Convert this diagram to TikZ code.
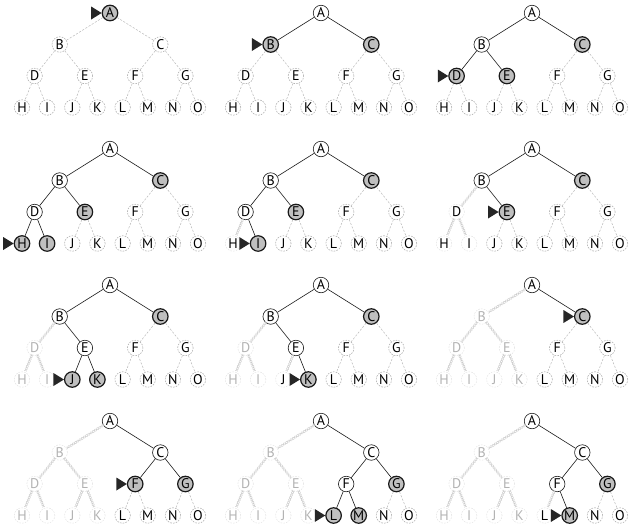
\documentclass[tikz,border=0pt]{standalone}
\usepackage{fontspec}
\setmainfont{PT Sans}
\usetikzlibrary{decorations.markings}
\tikzset{
  x=1pt, y=-1pt,
  nd/.style={circle, minimum size=15.5pt, inner sep=0pt, font=\fontsize{14}{14}\selectfont, text=black},
  n-un/.style={nd, draw=gray!65, dash pattern=on 1.6pt off 1.2pt, line width=0.55pt, fill=white},
  n-fr/.style={nd, draw=black!90, line width=1.2pt, fill=gray!50},
  n-ex/.style={nd, draw=black!90, line width=0.6pt, fill=white},
  n-rm/.style={nd, draw=gray!22, dash pattern=on 1.6pt off 1.2pt, line width=0.5pt, text=gray!60},
  n-rn/.style={nd, draw=gray!22, dash pattern=on 1.6pt off 1.2pt, line width=0.5pt, text=black},
  e-un/.style={draw=gray!55, dash pattern=on 2.2pt off 1.5pt, line width=0.5pt},
  e-fr/.style={draw=black!90, line width=0.6pt},
  e-ex/.style={e-fr},
  e-rm/.style={draw=none, postaction={decorate},
    decoration={markings, mark=between positions 0 and 1 step 2.6pt with
      {\draw[gray!40, line width=0.5pt] (-1.2pt,-1.2pt)--(1.2pt,1.2pt) (-1.2pt,1.2pt)--(1.2pt,-1.2pt);}}},
  e-rn/.style={e-rm},
  ns/.style={n-#1},
  es/.style={e-#1},
  ptr/.style={fill=black!85},
}
\newcommand\resetst{\def\sA{un}\def\sB{un}\def\sC{un}\def\sD{un}\def\sE{un}%
  \def\sF{un}\def\sG{un}\def\sH{un}\def\sI{un}\def\sJ{un}\def\sK{un}\def\sL{un}%
  \def\sM{un}\def\sN{un}\def\sO{un}}
\newcommand\tree[3]{%
\begin{scope}[shift={(#2,#3)}]
\node[ns/.expanded=\sA] (#1A) at (110,13) {A};
\node[ns/.expanded=\sB] (#1B) at (59.7,44.5) {B};
\node[ns/.expanded=\sC] (#1C) at (160.3,44.5) {C};
\node[ns/.expanded=\sD] (#1D) at (34.6,76) {D};
\node[ns/.expanded=\sE] (#1E) at (84.9,76) {E};
\node[ns/.expanded=\sF] (#1F) at (135.2,76) {F};
\node[ns/.expanded=\sG] (#1G) at (185.4,76) {G};
\node[ns/.expanded=\sH] (#1H) at (22,107.5) {H};
\node[ns/.expanded=\sI] (#1I) at (47.1,107.5) {I};
\node[ns/.expanded=\sJ] (#1J) at (72.3,107.5) {J};
\node[ns/.expanded=\sK] (#1K) at (97.4,107.5) {K};
\node[ns/.expanded=\sL] (#1L) at (122.6,107.5) {L};
\node[ns/.expanded=\sM] (#1M) at (147.7,107.5) {M};
\node[ns/.expanded=\sN] (#1N) at (172.9,107.5) {N};
\node[ns/.expanded=\sO] (#1O) at (198,107.5) {O};
\draw[es/.expanded=\sB] (#1A) -- (#1B);
\draw[es/.expanded=\sC] (#1A) -- (#1C);
\draw[es/.expanded=\sD] (#1B) -- (#1D);
\draw[es/.expanded=\sE] (#1B) -- (#1E);
\draw[es/.expanded=\sF] (#1C) -- (#1F);
\draw[es/.expanded=\sG] (#1C) -- (#1G);
\draw[es/.expanded=\sH] (#1D) -- (#1H);
\draw[es/.expanded=\sI] (#1D) -- (#1I);
\draw[es/.expanded=\sJ] (#1E) -- (#1J);
\draw[es/.expanded=\sK] (#1E) -- (#1K);
\draw[es/.expanded=\sL] (#1F) -- (#1L);
\draw[es/.expanded=\sM] (#1F) -- (#1M);
\draw[es/.expanded=\sN] (#1G) -- (#1N);
\draw[es/.expanded=\sO] (#1G) -- (#1O);
\fill[ptr] (#1\cur.west) -- ++(-10.5,6.5) -- ++(0,-13) -- cycle;
\end{scope}}
\begin{document}
\begin{tikzpicture}
\useasboundingbox (0,0) rectangle (634,528);
% panel 1
\resetst\def\sA{fr}\def\cur{A}
\tree{a}{0}{0}
% panel 2
\resetst\def\sA{ex}\def\sB{fr}\def\sC{fr}\def\cur{B}
\tree{b}{211}{0}
% panel 3
\resetst\def\sA{ex}\def\sB{ex}\def\sC{fr}\def\sD{fr}\def\sE{fr}\def\cur{D}
\tree{c}{422}{0}
% panel 4
\resetst\def\sA{ex}\def\sB{ex}\def\sD{ex}\def\sC{fr}\def\sE{fr}\def\sH{fr}\def\sI{fr}\def\cur{H}
\tree{d}{0}{136}
% panel 5
\resetst\def\sA{ex}\def\sB{ex}\def\sD{ex}\def\sC{fr}\def\sE{fr}\def\sI{fr}\def\sH{rn}\def\cur{I}
\tree{e}{211}{136}
% panel 6
\resetst\def\sA{ex}\def\sB{ex}\def\sC{fr}\def\sE{fr}\def\sD{rn}\def\sH{rn}\def\sI{rn}\def\cur{E}
\tree{f}{422}{136}
% panel 7
\resetst\def\sA{ex}\def\sB{ex}\def\sE{ex}\def\sC{fr}\def\sJ{fr}\def\sK{fr}\def\sD{rm}\def\sH{rm}\def\sI{rm}\def\cur{J}
\tree{g}{0}{272}
% panel 8
\resetst\def\sA{ex}\def\sB{ex}\def\sE{ex}\def\sC{fr}\def\sK{fr}\def\sD{rm}\def\sH{rm}\def\sI{rm}\def\sJ{rn}\def\cur{K}
\tree{h}{211}{272}
% panel 9
\resetst\def\sA{ex}\def\sC{fr}\def\sB{rm}\def\sD{rm}\def\sE{rm}\def\sH{rm}\def\sI{rm}\def\sJ{rm}\def\sK{rm}\def\cur{C}
\tree{i}{422}{272}
% panel 10
\resetst\def\sA{ex}\def\sC{ex}\def\sF{fr}\def\sG{fr}\def\sB{rm}\def\sD{rm}\def\sE{rm}\def\sH{rm}\def\sI{rm}\def\sJ{rm}\def\sK{rm}\def\cur{F}
\tree{j}{0}{408}
% panel 11
\resetst\def\sA{ex}\def\sC{ex}\def\sF{ex}\def\sG{fr}\def\sL{fr}\def\sM{fr}\def\sB{rm}\def\sD{rm}\def\sE{rm}\def\sH{rm}\def\sI{rm}\def\sJ{rm}\def\sK{rm}\def\cur{L}
\tree{k}{211}{408}
% panel 12
\resetst\def\sA{ex}\def\sC{ex}\def\sF{ex}\def\sG{fr}\def\sM{fr}\def\sL{rn}\def\sB{rm}\def\sD{rm}\def\sE{rm}\def\sH{rm}\def\sI{rm}\def\sJ{rm}\def\sK{rm}\def\cur{M}
\tree{l}{422}{408}
\end{tikzpicture}
\end{document}
